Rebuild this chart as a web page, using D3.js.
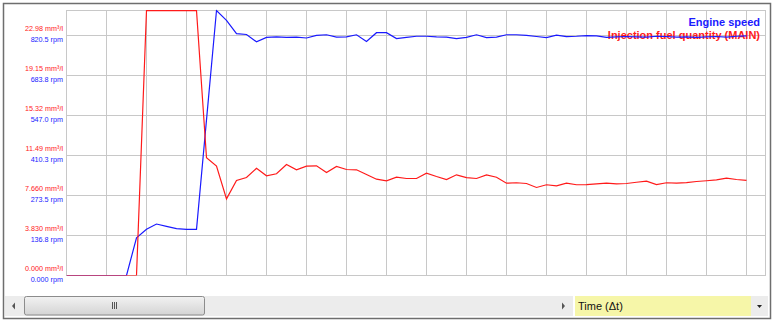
<!DOCTYPE html>
<html>
<head>
<meta charset="utf-8">
<script src="https://cdn.jsdelivr.net/npm/d3@7"></script>
<style>
  body { margin: 0; background: #fff; }
  svg { display: block; font-family: "Liberation Sans", Arial, sans-serif; }
</style>
</head>
<body>
<svg width="776" height="325"></svg>
<script>
// samples, one every step of the time axis
const engineSpeed = [0, 0, 0, 0, 0, 0, 0, 129, 158, 176, 168, 160, 158, 158, 532, 906, 872, 827, 824, 799,
  814, 816, 814, 815, 812, 821, 823, 815, 816, 823, 800, 830, 830, 810, 814, 818, 818, 816, 815, 810,
  814, 823, 813, 815, 823, 823, 821, 817, 813, 822, 817, 818, 820, 819, 814, 816, 817, 816, 815, 818,
  817, 815, 816, 814, 816, 817, 815, 818, 819];
const fuelQuantity = [0, 0, 0, 0, 0, 0, 0, 0, 25.37, 25.37, 25.37, 25.37, 25.37, 25.37, 11.27, 10.47, 7.34, 9.10, 9.38, 10.27,
  9.55, 9.74, 10.63, 10.12, 10.47, 10.50, 9.86, 10.44, 10.15, 10.12, 9.67, 9.22, 9.07, 9.41, 9.29, 9.29, 9.80, 9.48, 9.19, 9.64,
  9.38, 9.29, 9.64, 9.41, 8.84, 8.88, 8.81, 8.43, 8.69, 8.59, 8.84, 8.69, 8.71, 8.78, 8.84, 8.78, 8.81, 8.93, 9.03, 8.71,
  8.88, 8.84, 8.90, 9.00, 9.07, 9.16, 9.32, 9.19, 9.10];

const rpmTicks = [0, 136.75, 273.5, 410.25, 547, 683.75, 820.5];
const fuelTicks = [0, 3.83, 7.66, 11.49, 15.32, 19.15, 22.98];
const timeGrid = d3.range(0, 69, 4);

const seriesNames = ["Engine speed", "Injection fuel quantity (MAIN)"];
const seriesColors = ["#1a1aff", "#ff1a1a"];

const svg = d3.select("svg");
const pLeft = 66.5, pRight = 765.5, pTop = 10.5, pBottom = 275.5;

const x = d3.scaleLinear().domain([0, 70]).range([pLeft, pLeft + 700]);
const yRpm = d3.scaleLinear().domain([0, 820.5 * 265 / 240]).range([pBottom, pTop]);
const yFuel = d3.scaleLinear().domain([0, 22.98 * 265 / 240]).range([pBottom, pTop]);
const fmt = d3.format(".4r");

// outer frame
svg.append("rect").attr("x", 3.5).attr("y", 3.5).attr("width", 767).attr("height", 315)
  .attr("fill", "#fff").attr("stroke", "#6e6e6e").attr("stroke-width", 1.5);

// grid
const grid = svg.append("g").attr("stroke", "#c8c8c8").attr("stroke-width", 1);
grid.selectAll(".v").data(timeGrid).join("line")
  .attr("x1", d => Math.floor(x(d)) + 0.5).attr("x2", d => Math.floor(x(d)) + 0.5)
  .attr("y1", pTop).attr("y2", pBottom);
grid.selectAll(".h").data(rpmTicks).join("line")
  .attr("x1", pLeft).attr("x2", pRight)
  .attr("y1", d => Math.floor(yRpm(d)) + 0.5).attr("y2", d => Math.floor(yRpm(d)) + 0.5);
grid.append("rect").attr("x", pLeft).attr("y", pTop).attr("width", pRight - pLeft).attr("height", pBottom - pTop)
  .attr("fill", "none");

// tick labels, both scales share the grid lines
const labels = svg.append("g").attr("font-size", 7.2).attr("text-anchor", "end");
labels.selectAll(".f").data(fuelTicks).join("text")
  .attr("x", 63).attr("y", d => yFuel(d) - 7).attr("dy", "0.35em")
  .attr("fill", "#ff1a1a").text(d => fmt(d) + " mm³/l");
labels.selectAll(".r").data(rpmTicks).join("text")
  .attr("x", 63).attr("y", d => yRpm(d) + 4).attr("dy", "0.35em")
  .attr("fill", "#1a1aff").text(d => fmt(d) + " rpm");

// legend
const legend = svg.append("g").attr("font-size", 11).attr("font-weight", "bold").attr("text-anchor", "end");
legend.selectAll("text").data(seriesNames).join("text")
  .attr("x", 760).attr("y", (d, i) => 22.5 + i * 12.5).attr("dy", "0.35em")
  .attr("fill", (d, i) => seriesColors[i]).text(d => d);

// lines
svg.append("clipPath").attr("id", "plot").append("rect")
  .attr("x", pLeft).attr("y", pTop - 1).attr("width", pRight - pLeft).attr("height", pBottom - pTop + 1);
const plot = svg.append("g").attr("clip-path", "url(#plot)").attr("fill", "none").attr("stroke-width", 1.2);
plot.append("path").datum(engineSpeed)
  .attr("stroke", seriesColors[0])
  .attr("d", d3.line().x((d, i) => x(i)).y(d => yRpm(d)));
plot.append("path").datum(fuelQuantity)
  .attr("stroke", seriesColors[1])
  .attr("d", d3.line().x((d, i) => x(i)).y(d => yFuel(d)));

// scrollbar strip
const bar = svg.append("g");
bar.append("rect").attr("x", 5).attr("y", 296).attr("width", 568).attr("height", 20).attr("fill", "#ececec");
bar.append("path").attr("d", "M15,302.5 L12,306 L15,309.5 Z").attr("fill", "#555");
bar.append("path").attr("d", "M562,302.5 L565,306 L562,309.5 Z").attr("fill", "#555");
const grad = svg.append("defs").append("linearGradient").attr("id", "thumb")
  .attr("x1", 0).attr("x2", 0).attr("y1", 0).attr("y2", 1);
grad.append("stop").attr("offset", 0).attr("stop-color", "#f2f2f2");
grad.append("stop").attr("offset", 1).attr("stop-color", "#d4d4d4");
bar.append("rect").attr("x", 24.5).attr("y", 296.5).attr("width", 180).attr("height", 18.5).attr("rx", 2)
  .attr("fill", "url(#thumb)").attr("stroke", "#8c8c8c");
bar.selectAll(".grip").data([-2, 0, 2]).join("line")
  .attr("x1", d => 114.5 + d).attr("x2", d => 114.5 + d).attr("y1", 302).attr("y2", 309)
  .attr("stroke", "#555");

bar.append("rect").attr("x", 575).attr("y", 296).attr("width", 176).attr("height", 20).attr("fill", "#f6f6a8");
bar.append("text").attr("x", 578).attr("y", 310).attr("font-size", 11).attr("fill", "#111").text("Time (Δt)");
bar.append("rect").attr("x", 751).attr("y", 296).attr("width", 17).attr("height", 20).attr("fill", "#ececec");
bar.append("path").attr("d", "M757,305 L762,305 L759.5,308 Z").attr("fill", "#222");
</script>
</body>
</html>
